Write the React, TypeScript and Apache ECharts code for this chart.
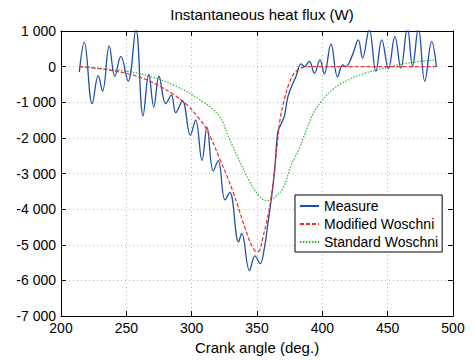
import React, { useEffect, useRef } from "react";
import * as echarts from "echarts";

const titleText = "Instantaneous heat flux (W)";
const xName = "Crank angle (deg.)";
const seriesNames = ["Measure", "Modified Woschni", "Standard Woschni"];

const measureX = [214, 217.8, 223.9, 228.5, 231.8, 236.9, 241.2, 245.8, 251.4, 257.3, 262.8, 267.2, 271, 275, 280.2, 284.5, 287.8, 292.9, 299, 303, 307.9, 311.7, 316.5, 320.3, 325.5, 329.2, 335.9, 338.3, 344.3, 348.5, 352.4, 355.7, 358.2, 361, 363.4, 365.9, 368.5, 371, 373.5, 376.1, 379.9, 383.7, 386.3, 390.1, 393.9, 398.2, 401.5, 406.6, 411.7, 415.5, 418, 423.1, 427.5, 430.8, 435.9, 441, 445.5, 450.6, 455.5, 460.1, 465.1, 469, 473.5, 478.4, 483.7, 487.3];
const measureY = [-150, 690, -1040, -250, -690, 580, -270, 290, -410, 1050, -1380, -220, -1130, -270, -1040, -800, -1290, -960, -1920, -1500, -2630, -1700, -2930, -2640, -3740, -3530, -4920, -4680, -5720, -5310, -5530, -5080, -4440, -3700, -2950, -1840, -1610, -1380, -870, -590, -270, 80, 0, 150, -190, 190, -200, 640, -290, 50, 0, 330, 750, 240, 1050, -130, 750, -60, 840, -40, 1100, 10, 1080, -410, 700, 0];

const modX = [214, 230, 250, 265, 275.6, 286, 296, 304, 311.3, 321.4, 331.5, 341.7, 346.8, 350, 352, 354.5, 359.5, 363, 366, 368, 371, 374.8, 380, 387.5, 398, 420, 450, 487];
const modY = [0, -60, -190, -360, -550, -780, -1060, -1380, -1750, -2580, -3500, -4620, -5080, -5200, -5150, -4800, -3970, -3050, -2000, -1400, -920, -450, -130, -10, 0, 0, 0, 0];

const stdX = [214, 230, 250, 268, 288, 306, 321, 328, 336, 344, 351, 357.5, 363, 369.7, 376, 382.4, 388, 395, 408, 420.6, 433.4, 446.2, 458.8, 471.5, 487];
const stdY = [0, -50, -130, -270, -550, -920, -1380, -1950, -2600, -3200, -3600, -3760, -3680, -3420, -2780, -2300, -1750, -1190, -640, -360, -175, -56, 56, 130, 190];

const zip = (xs: number[], ys: number[]) => xs.map((x, i) => [x, ys[i]]);

const fmtThousands = (v: number) => {
  const s = Math.abs(v).toString().replace(/\B(?=(\d{3})+(?!\d))/g, " ");
  return (v < 0 ? "-" : "") + s;
};

const FONT = "Liberation Sans, Arial, sans-serif";

export default function App() {
  const ref = useRef<HTMLDivElement>(null);
  useEffect(() => {
    if (!ref.current) return;
    const chart = echarts.init(ref.current, null, { renderer: "svg" });
    const axisLine = { show: true, onZero: false, lineStyle: { color: "#000", width: 1 } };
    const tick = { show: true, inside: true, length: 5, lineStyle: { color: "#000" } };
    const split = { show: true, lineStyle: { color: "#b5b5b5", type: [1, 3] as any, width: 1 } };
    chart.setOption({
      animation: false,
      backgroundColor: "#fff",
      textStyle: { fontFamily: FONT },
      title: {
        text: titleText,
        left: 257,
        textAlign: "center",
        top: 2,
        textStyle: { fontSize: 15, fontWeight: "normal", color: "#000", fontFamily: FONT },
      },
      grid: { left: 61, right: 22, top: 31, bottom: 40, containLabel: false },
      legend: {
        orient: "vertical",
        left: 295,
        top: 195,
        itemWidth: 19,
        itemHeight: 14,
        itemGap: 4,
        padding: [4, 4, 3, 4],
        borderColor: "#000",
        borderWidth: 1,
        borderRadius: 0,
        backgroundColor: "#fff",
        itemStyle: { opacity: 0 },
        textStyle: { fontSize: 14, color: "#000", fontFamily: FONT },
        data: seriesNames,
      },
      xAxis: [
        {
          type: "value",
          min: 200,
          max: 500,
          interval: 50,
          position: "bottom",
          axisLine,
          axisTick: tick,
          splitLine: split,
          axisLabel: { color: "#000", fontSize: 14, margin: 5, fontFamily: FONT },
          name: xName,
          nameLocation: "middle",
          nameGap: 20,
          nameTextStyle: { color: "#000", fontSize: 15, fontFamily: FONT },
        },
        {
          type: "value",
          min: 200,
          max: 500,
          interval: 50,
          position: "top",
          axisLine,
          axisTick: tick,
          splitLine: { show: false },
          axisLabel: { show: false },
        },
      ],
      yAxis: [
        {
          type: "value",
          min: -7000,
          max: 1000,
          interval: 1000,
          position: "left",
          axisLine,
          axisTick: tick,
          splitLine: split,
          axisLabel: { color: "#000", fontSize: 14, margin: 5, formatter: fmtThousands, fontFamily: FONT },
        },
        {
          type: "value",
          min: -7000,
          max: 1000,
          interval: 1000,
          position: "right",
          axisLine,
          axisTick: tick,
          splitLine: { show: false },
          axisLabel: { show: false },
        },
      ],
      series: [
        {
          name: seriesNames[0],
          type: "line",
          data: zip(measureX, measureY),
          smooth: 0.4,
          symbol: "none",
          clip: true,
          lineStyle: { color: "#1f4fa8", width: 1.3 },
          itemStyle: { color: "#1f4fa8" },
          z: 3,
        },
        {
          name: seriesNames[1],
          type: "line",
          data: zip(modX, modY),
          smooth: 0.4,
          symbol: "none",
          clip: true,
          lineStyle: { color: "#ee2a2a", width: 1.2, type: [4, 2] },
          itemStyle: { color: "#ee2a2a" },
          z: 4,
        },
        {
          name: seriesNames[2],
          type: "line",
          data: zip(stdX, stdY),
          smooth: 0.4,
          symbol: "none",
          clip: true,
          lineStyle: { color: "#2db82d", width: 1.2, type: [1.5, 1.5] },
          itemStyle: { color: "#2db82d" },
          z: 2,
        },
      ],
    });
    return () => chart.dispose();
  }, []);
  return <div ref={ref} style={{ width: 475, height: 360, position: "absolute", left: 0, top: 0 }} />;
}
